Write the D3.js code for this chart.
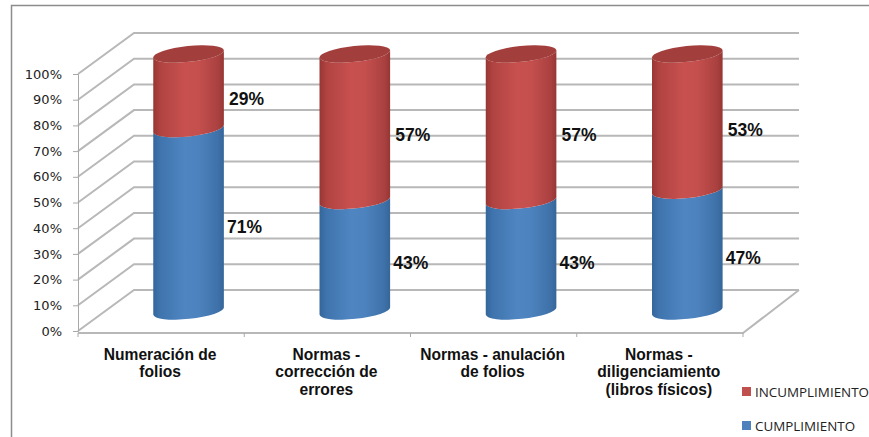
<!DOCTYPE html>
<html>
<head>
<meta charset="utf-8">
<script src="https://cdn.jsdelivr.net/npm/d3@7"></script>
<style>
html,body{margin:0;padding:0;background:#fff;overflow:hidden}
svg{display:block}
</style>
</head>
<body>
<div id="chart"></div>
<script>
const categories = [
  ["Numeración de", "folios"],
  ["Normas -", "corrección de", "errores"],
  ["Normas - anulación", "de folios"],
  ["Normas -", "diligenciamiento", "(libros físicos)"]
];
const cumplimiento = [71, 43, 43, 47];
const incumplimiento = [29, 57, 57, 53];
const percentTicks = [0, 10, 20, 30, 40, 50, 60, 70, 80, 90, 100];
const legendNames = ["INCUMPLIMIENTO", "CUMPLIMIENTO"];

const width = 869, height = 437;
const depth = {dx: 56, dy: -41};            // oblique offset of the back wall
const barDepth = 0.49;                      // cylinders stand mid-way across the floor
const barRx = 35.5, barRy = 8, barTilt = -6;

const svg = d3.select("#chart").append("svg").attr("width", width).attr("height", height);
const x = d3.scaleBand().domain(d3.range(categories.length)).range([78, 743]);
const y = d3.scaleLinear().domain([0, 100]).range([331, 74]);

const defs = svg.append("defs");
function cylinderGradient(id, stops) {
  const g = defs.append("linearGradient").attr("id", id);
  stops.forEach(([o, c]) => g.append("stop").attr("offset", o).attr("stop-color", c));
}
cylinderGradient("blueSide", [[0, "#34669b"], [0.1, "#3f74ad"], [0.45, "#4f86c2"], [0.65, "#4c82bd"], [0.92, "#3e71a8"], [1, "#36669a"]]);
cylinderGradient("redSide", [[0, "#973634"], [0.1, "#b04341"], [0.45, "#c8514f"], [0.65, "#c44f4d"], [0.92, "#a94140"], [1, "#963634"]]);

// outer frame of the slide
svg.append("path").attr("d", `M11.5,${height} V5.5 H${width}`)
  .attr("fill", "none").attr("stroke", "#8c8c8c").attr("stroke-width", 1.5);

// back wall and side wall gridlines
const grid = svg.append("g").attr("fill", "none").attr("stroke", "#b8b8b8").attr("stroke-width", 2);
grid.selectAll("path").data(percentTicks).join("path")
  .attr("d", t => `M${x.range()[0]},${y(t)} L${x.range()[0] + depth.dx},${y(t) + depth.dy} H${x.range()[1] + depth.dx}`);

// floor front and right edge
svg.append("path")
  .attr("d", `M${x.range()[0]},${y(0) + 2} H${x.range()[1]} L${x.range()[1] + depth.dx},${y(0) + depth.dy}`)
  .attr("fill", "none").attr("stroke", "#b8b8b8").attr("stroke-width", 2);

// value axis
const yAxis = d3.axisLeft(y).tickValues(percentTicks).tickFormat(d => d + "%").tickSize(5).tickPadding(11);
const yG = svg.append("g").attr("transform", `translate(${x.range()[0]},0)`).call(yAxis);
yG.select(".domain").attr("stroke", "#a8a8a8").attr("stroke-width", 1);
yG.selectAll(".tick line").attr("stroke", "#a8a8a8");
yG.selectAll("text").attr("font-family", "'DejaVu Sans'").attr("font-size", 13).attr("fill", "#222");

// category ticks along the floor
svg.append("g").selectAll("line").data(d3.range(categories.length + 1)).join("line")
  .attr("x1", i => x.range()[0] + i * x.step()).attr("x2", i => x.range()[0] + i * x.step())
  .attr("y1", y(0) + 2).attr("y2", y(0) + 6)
  .attr("stroke", "#a8a8a8");

const barCx = i => x(i) + x.bandwidth() / 2 + depth.dx * barDepth;
const barY = v => y(v) + depth.dy * barDepth;

// One stacked drum: side wall from value v0 up to v1, curved along the front of the ellipse
function sidePath(cx, v0, v1) {
  const a = barTilt * Math.PI / 180;
  const ex = barRx * Math.cos(a), ey = barRx * Math.sin(a);
  const y0 = barY(v0), y1 = barY(v1);
  return `M${cx - ex},${y1 - ey} L${cx - ex},${y0 - ey}` +
    ` A${barRx},${barRy} ${barTilt} 0 0 ${cx + ex},${y0 + ey}` +
    ` L${cx + ex},${y1 + ey}` +
    ` A${barRx},${barRy} ${barTilt} 0 1 ${cx - ex},${y1 - ey} Z`;
}

const bars = svg.append("g").selectAll("g").data(d3.range(categories.length)).join("g");
bars.append("path")
  .attr("d", i => sidePath(barCx(i), 0, cumplimiento[i]))
  .attr("fill", "url(#blueSide)");
bars.append("path")
  .attr("d", i => sidePath(barCx(i), cumplimiento[i], cumplimiento[i] + incumplimiento[i]))
  .attr("fill", "url(#redSide)");
bars.append("ellipse")
  .attr("rx", barRx).attr("ry", barRy)
  .attr("transform", i => `translate(${barCx(i)},${barY(cumplimiento[i] + incumplimiento[i])}) rotate(${barTilt})`)
  .attr("fill", "#a23f3d");

// value labels beside each segment
const labelStyle = s => s.attr("font-family", "'Liberation Sans'").attr("font-weight", "bold")
  .attr("font-size", 17.5).attr("fill", "#111");
bars.append("text").call(labelStyle)
  .attr("x", i => barCx(i) + barRx + 3)
  .attr("y", i => barY(cumplimiento[i] / 2) + 13)
  .text(i => cumplimiento[i] + "%");
bars.append("text").call(labelStyle)
  .attr("x", i => barCx(i) + barRx + 5)
  .attr("y", i => barY(cumplimiento[i] + incumplimiento[i] / 2) + 14)
  .text(i => incumplimiento[i] + "%");

// category labels
const catG = svg.append("g").attr("font-family", "'Liberation Sans'").attr("font-weight", "bold")
  .attr("font-size", 15.6).attr("fill", "#111").attr("text-anchor", "middle");
categories.forEach((lines, i) => {
  const t = catG.append("text");
  lines.forEach((line, k) => t.append("tspan")
    .attr("x", x(i) + x.bandwidth() / 2 - 1).attr("y", 360 + k * 17.3).text(line));
});

// legend
const legendColors = d3.scaleOrdinal().domain(legendNames).range(["#c0504d", "#4f81bd"]);
const legend = svg.append("g").selectAll("g").data(legendNames).join("g")
  .attr("transform", (d, i) => `translate(742,${387 + i * 34})`);
legend.append("rect").attr("width", 9).attr("height", 9).attr("fill", d => legendColors(d));
legend.append("text").attr("x", 13).attr("y", 9.5)
  .attr("font-family", "'Open Sans'").attr("font-size", 13.4).attr("fill", "#222").text(d => d);
</script>
</body>
</html>
